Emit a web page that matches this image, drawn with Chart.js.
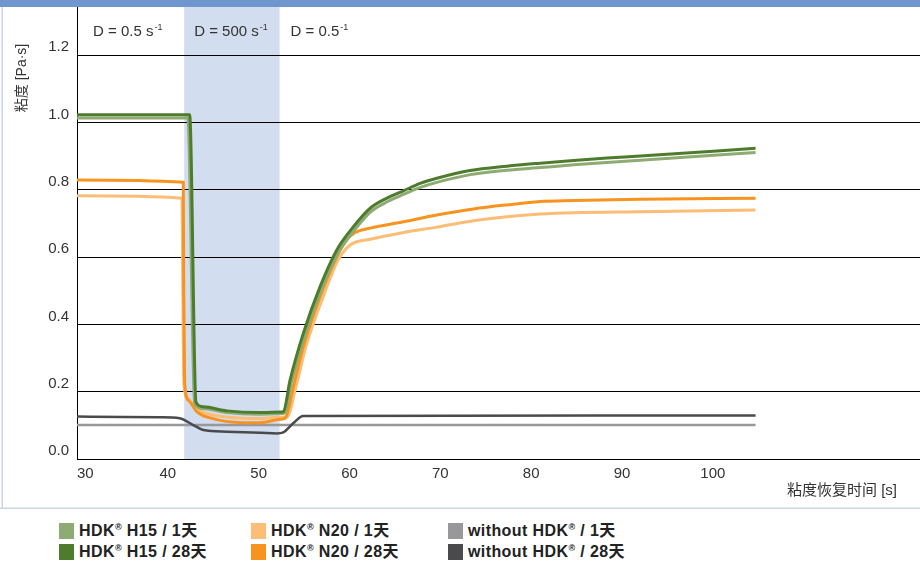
<!DOCTYPE html>
<html>
<head>
<meta charset="utf-8">
<script src="https://cdn.jsdelivr.net/npm/chart.js@4.4.0/dist/chart.umd.min.js"></script>
<style>
  html, body { margin: 0; padding: 0; background: #fff; overflow: hidden; }
  #wrap { position: relative; width: 920px; height: 569px; }
  #legend { position: absolute; left: 0; top: 509px; width: 920px; height: 60px;
    font-family: 'Liberation Sans', 'Noto Sans CJK SC', sans-serif; font-weight: bold; font-size: 16px;
    letter-spacing: 0.4px; color: #222; }
  .item { position: absolute; white-space: nowrap; }
  .sw { position: absolute; left: 0; top: 0; width: 15px; height: 16px; }
  .txt { position: absolute; left: 20px; top: -1px; line-height: 18px; }
  .txt sup { font-size: 9px; vertical-align: 6px; line-height: 0; }
</style>
</head>
<body>
<div id="wrap">
  <canvas id="chart" width="920" height="509"></canvas>
  <div id="legend"></div>
</div>
<script>
// tick values and annotations
const xTicks = [30, 40, 50, 60, 70, 80, 90, 100];
const yTicks = [0, 0.2, 0.4, 0.6, 0.8, 1.0, 1.2];
const shearBand = [41.8, 52.3];
const bandLabels = ['D = 0.5 s', 'D = 500 s', 'D = 0.5'];

// HDK H15 / 1 day
const h15Day1X = [30, 42.2, 42.95, 43.8, 46.5, 50, 52.5, 52.85, 53.6, 55.05, 56.9, 58.75, 60.55, 62.35, 64.2, 66.0, 67.8, 69.6, 73.3, 77.3, 81.0, 84.7, 88.3, 92.0, 104.7];
const h15Day1Y = [1.013, 1.013, 0.165, 0.150, 0.138, 0.133, 0.135, 0.137, 0.228, 0.365, 0.503, 0.612, 0.680, 0.735, 0.765, 0.787, 0.807, 0.822, 0.845, 0.858, 0.866, 0.874, 0.881, 0.888, 0.911];
// HDK H15 / 28 days
const h15Day28X = [30, 42.4, 43.1, 43.9, 46.5, 50, 52.5, 52.72, 53.46, 54.92, 56.76, 58.6, 60.43, 62.27, 64.11, 65.94, 67.78, 69.61, 73.28, 77.32, 80.99, 84.66, 88.34, 92.0, 104.7];
const h15Day28Y = [1.023, 1.023, 0.169, 0.155, 0.143, 0.138, 0.140, 0.141, 0.235, 0.374, 0.512, 0.621, 0.690, 0.745, 0.775, 0.797, 0.819, 0.834, 0.857, 0.870, 0.879, 0.887, 0.894, 0.900, 0.923];
// HDK N20 / 1 day
const n20Day1X = [30, 41.55, 41.65, 41.75, 42.2, 43.1, 44.6, 48.3, 50.2, 52.5, 53.13, 54.1, 55.2, 57.1, 58.74, 60.07, 62.27, 65.94, 69.61, 73.65, 77.32, 80.99, 84.66, 92.0, 104.7];
const n20Day1Y = [0.782, 0.775, 0.5, 0.23, 0.18, 0.15, 0.133, 0.121, 0.12, 0.125, 0.125, 0.215, 0.334, 0.482, 0.591, 0.636, 0.653, 0.673, 0.689, 0.708, 0.720, 0.728, 0.732, 0.735, 0.740];
// HDK N20 / 28 days
const n20Day28X = [30, 41.7, 41.75, 41.85, 42.26, 43.18, 44.65, 48.28, 50.15, 52.4, 52.91, 53.82, 54.92, 56.76, 58.6, 59.7, 60.62, 62.27, 65.94, 69.61, 73.65, 77.32, 80.99, 84.66, 92.0, 104.7];
const n20Day28Y = [0.829, 0.822, 0.5, 0.226, 0.175, 0.141, 0.122, 0.108, 0.108, 0.118, 0.121, 0.215, 0.334, 0.482, 0.601, 0.651, 0.673, 0.686, 0.705, 0.725, 0.743, 0.755, 0.765, 0.768, 0.772, 0.775];
// without HDK / 1 day
const noneDay1X = [30, 104.7];
const noneDay1Y = [0.101, 0.101];
// without HDK / 28 days
const noneDay28X = [30, 39.1, 41.3, 42.8, 43.9, 46.5, 50.2, 52.0, 52.7, 53.8, 54.9, 104.7];
const noneDay28Y = [0.126, 0.124, 0.121, 0.101, 0.086, 0.081, 0.078, 0.076, 0.079, 0.106, 0.128, 0.129];

const seriesLabels = ['HDK® H15 / 1天', 'HDK® H15 / 28天', 'HDK® N20 / 1天', 'HDK® N20 / 28天', 'without HDK® / 1天', 'without HDK® / 28天'];
const seriesColors = ['#8dab72', '#4d7c2c', '#fcbd76', '#f7931e', '#98989b', '#4a4a4c'];

const zip = (xs, ys) => xs.map((x, i) => ({ x: x, y: ys[i] }));
const seriesData = [
  zip(h15Day1X, h15Day1Y), zip(h15Day28X, h15Day28Y),
  zip(n20Day1X, n20Day1Y), zip(n20Day28X, n20Day28Y),
  zip(noneDay1X, noneDay1Y), zip(noneDay28X, noneDay28Y)
];
const drawOrder = [2, 1, 4, 3, 6, 5];

const FONT = "'Liberation Sans', 'Noto Sans CJK SC', sans-serif";
const isMajor = v => yTicks.some(t => Math.abs(t - v) < 1e-6);

const decor = {
  id: 'decor',
  beforeDraw(chart) {
    const { ctx, chartArea, scales } = chart;
    const x0 = scales.x.getPixelForValue(shearBand[0]);
    const x1 = scales.x.getPixelForValue(shearBand[1]);
    ctx.save();
    ctx.fillStyle = '#d2ddf0';
    ctx.fillRect(x0, chartArea.top, x1 - x0, chartArea.bottom - chartArea.top);
    ctx.restore();
  },
  afterDraw(chart) {
    const { ctx, chartArea, scales } = chart;
    const x0 = scales.x.getPixelForValue(shearBand[0]);
    const x1 = scales.x.getPixelForValue(shearBand[1]);
    ctx.save();
    // top bar and frame
    ctx.fillStyle = '#6f97cd';
    ctx.fillRect(0, 0, chart.width, 7);
    ctx.fillStyle = '#c8d6ec';
    ctx.fillRect(1.5, 7, 1.5, chart.height - 7);
    ctx.fillRect(0, chart.height - 1.5, chart.width, 1.5);

    // shear rate labels
    ctx.fillStyle = '#333';
    ctx.textBaseline = 'alphabetic';
    const lefts = [chartArea.left + 16, x0 + 10, x1 + 11];
    bandLabels.forEach((t, i) => {
      ctx.font = '15px ' + FONT;
      ctx.textAlign = 'left';
      ctx.fillText(t, lefts[i], 36);
      const w = ctx.measureText(t).width;
      ctx.font = '9px ' + FONT;
      ctx.fillText('-1', lefts[i] + w + 1, 30);
    });

    // axis titles
    ctx.font = '15px ' + FONT;
    ctx.textAlign = 'right';
    ctx.fillText('粘度恢复时间 [s]', 897, 495);
    ctx.translate(22, 78);
    ctx.rotate(-Math.PI / 2);
    ctx.textAlign = 'center';
    ctx.textBaseline = 'middle';
    ctx.font = '14px ' + FONT;
    ctx.fillText('粘度 [Pa·s]', 0, 0);
    ctx.restore();
  }
};

const noPad = s => { s.paddingTop = 0; s.paddingBottom = 0; s.paddingLeft = 0; s.paddingRight = 0; };

new Chart(document.getElementById('chart'), {
  type: 'line',
  data: {
    datasets: seriesData.map((d, i) => ({
      label: seriesLabels[i],
      data: d,
      borderColor: seriesColors[i],
      borderWidth: i >= 4 ? 2.5 : 3,
      pointRadius: 0,
      fill: false,
      cubicInterpolationMode: 'monotone',
      order: drawOrder[i]
    }))
  },
  options: {
    responsive: false,
    animation: false,
    layout: { padding: { top: 7, left: 0, right: 0, bottom: 0 } },
    plugins: { legend: { display: false }, tooltip: { enabled: false } },
    scales: {
      x: {
        type: 'linear',
        min: 30,
        max: 122.8,
        afterFit: s => { s.height = 50; noPad(s); },
        afterBuildTicks: s => { s.ticks = xTicks.map(v => ({ value: v })); },
        grid: { color: 'transparent', drawTicks: false },
        border: { display: true, color: '#000', width: 1 },
        ticks: {
          autoSkip: false,
          maxRotation: 0,
          padding: 6,
          color: '#333',
          font: { family: FONT, size: 15 },
          callback: v => (v === xTicks[0] ? '    ' + v : String(v))
        }
      },
      y: {
        min: 0,
        max: 1.343,
        afterFit: s => { s.width = 77; noPad(s); },
        afterBuildTicks: s => { s.ticks = yTicks.map(v => ({ value: v })); },
        grid: {
          drawTicks: false,
          color: c => (c.tick && c.tick.value > 0.01 && isMajor(c.tick.value) ? '#000' : 'transparent'),
          lineWidth: 1
        },
        border: { display: true, color: '#000', width: 1 },
        ticks: {
          padding: 8,
          labelOffset: -8,
          color: '#333',
          font: { family: FONT, size: 15 },
          callback: v => v.toFixed(1)
        }
      }
    }
  },
  plugins: [decor]
});

// legend in three columns, two rows
const legend = document.getElementById('legend');
const colLeft = [59, 251, 448];
const rowTop = [14, 35];
seriesLabels.forEach((label, i) => {
  const item = document.createElement('div');
  item.className = 'item';
  item.style.left = colLeft[Math.floor(i / 2)] + 'px';
  item.style.top = rowTop[i % 2] + 'px';
  item.innerHTML = '<span class="sw" style="background:' + seriesColors[i] + '"></span>' +
    '<span class="txt">' + label.replace('®', '<sup>®</sup>') + '</span>';
  legend.appendChild(item);
});
</script>
</body>
</html>
